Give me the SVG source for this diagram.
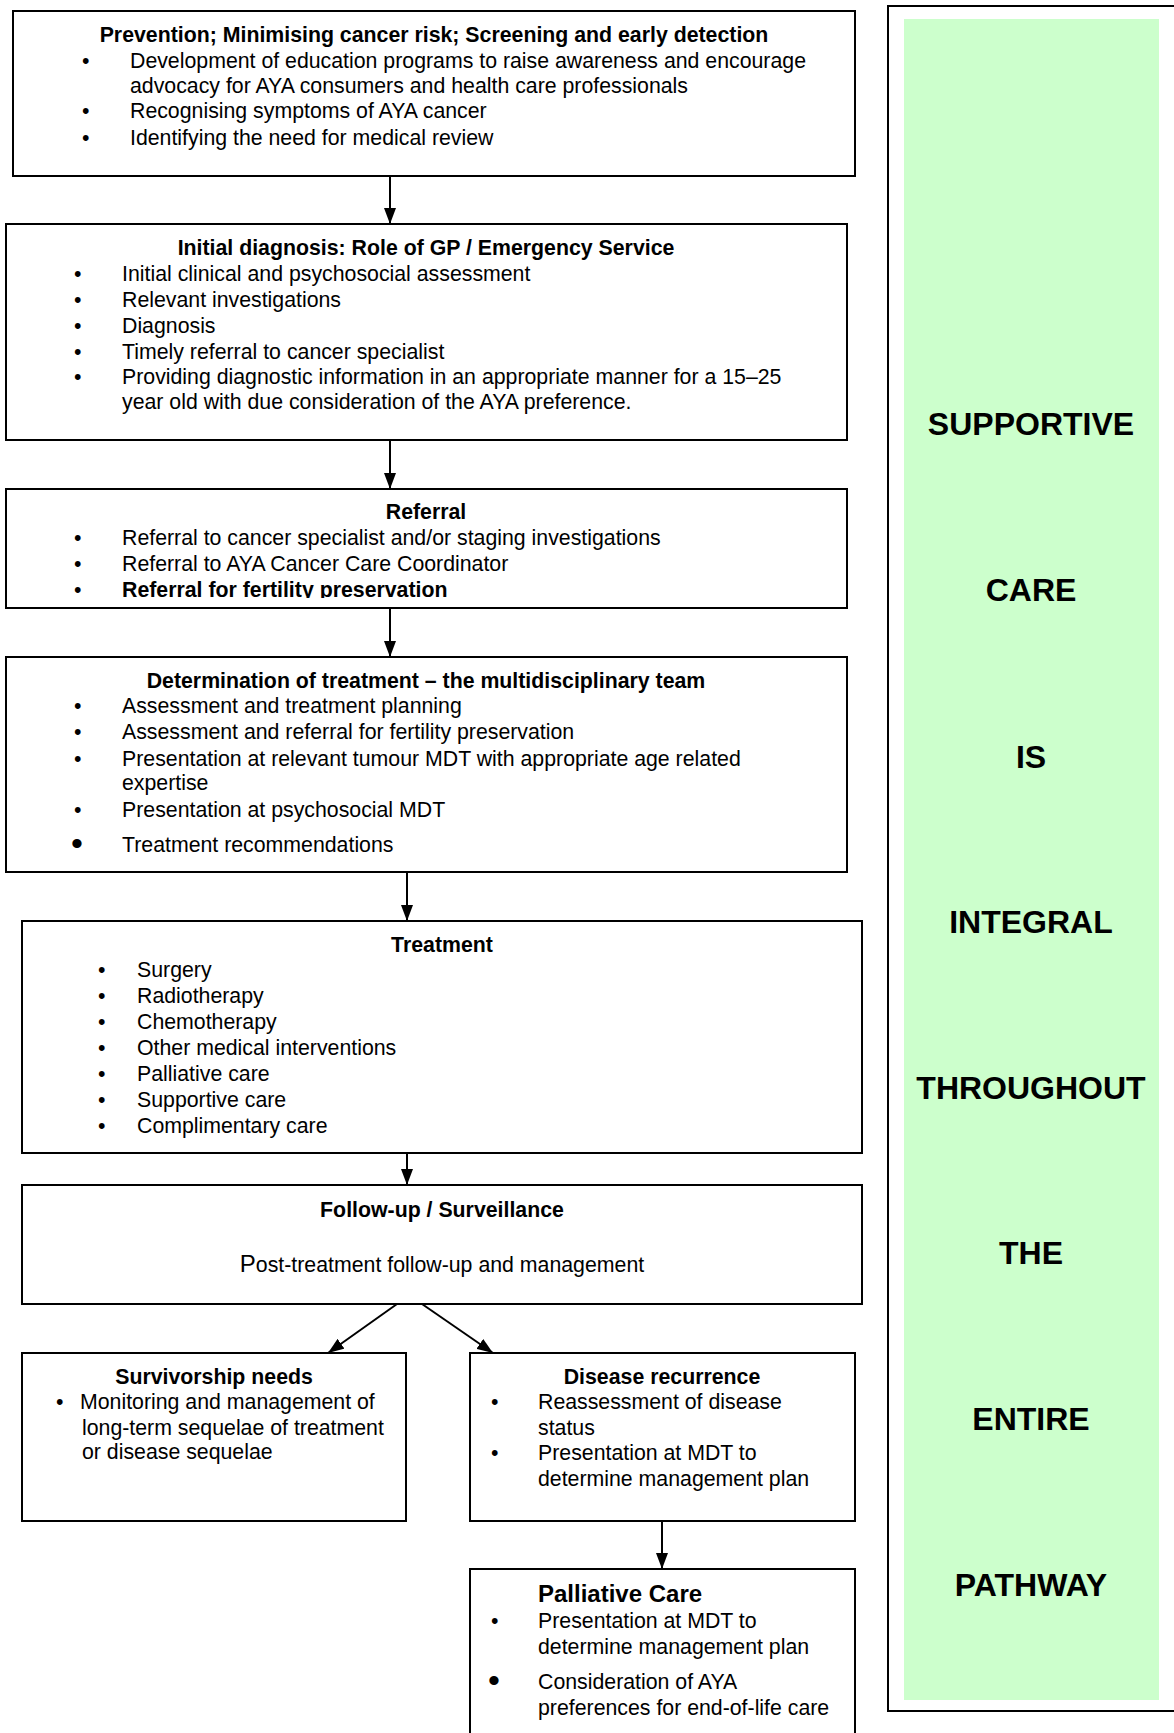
<svg xmlns="http://www.w3.org/2000/svg" width="1174" height="1733" viewBox="0 0 1174 1733">
  <style>
    .box{fill:#fff;stroke:#000;stroke-width:2}
    .t{font-family:"Liberation Sans",Arial,Helvetica,sans-serif;font-size:21.3px;fill:#000}
    .b{font-weight:bold}
    .c{text-anchor:middle}
    .big{font-size:34px}
    .head{font-size:24px}
    .side{font-family:"Liberation Sans",Arial,Helvetica,sans-serif;font-size:32px;font-weight:bold;text-anchor:middle;fill:#000}
    .conn{stroke:#000;stroke-width:2;fill:none}
  </style>
  <defs>
    <marker id="arrow" viewBox="0 0 16 12" refX="16" refY="6" markerWidth="16" markerHeight="12" markerUnits="userSpaceOnUse" orient="auto">
      <path d="M0,0 L16,6 L0,12 z" fill="#000"/>
    </marker>
    <clipPath id="refClip">
      <rect x="5" y="489" width="843" height="109"/>
    </clipPath>
  </defs>

  <rect width="1174" height="1733" fill="#fff"/>

  <!-- side panel: supportive care -->
  <g id="supportive-care">
    <rect x="888" y="6" width="300" height="1705" fill="#fff" stroke="#000" stroke-width="2"/>
    <rect x="904" y="19" width="255" height="1681" fill="#ccffcc"/>
    <text class="side" x="1031" y="435">SUPPORTIVE</text>
    <text class="side" x="1031" y="601">CARE</text>
    <text class="side" x="1031" y="768">IS</text>
    <text class="side" x="1031" y="933">INTEGRAL</text>
    <text class="side" x="1031" y="1099">THROUGHOUT</text>
    <text class="side" x="1031" y="1264">THE</text>
    <text class="side" x="1031" y="1430">ENTIRE</text>
    <text class="side" x="1031" y="1596">PATHWAY</text>
  </g>

  <!-- connectors -->
  <g id="connectors">
    <line class="conn" x1="390" y1="176" x2="390" y2="224" marker-end="url(#arrow)"/>
    <line class="conn" x1="390" y1="440" x2="390" y2="489" marker-end="url(#arrow)"/>
    <line class="conn" x1="390" y1="608" x2="390" y2="657" marker-end="url(#arrow)"/>
    <line class="conn" x1="407" y1="872" x2="407" y2="921" marker-end="url(#arrow)"/>
    <line class="conn" x1="407" y1="1153" x2="407" y2="1185" marker-end="url(#arrow)"/>
    <line class="conn" x1="397" y1="1304" x2="328" y2="1353" marker-end="url(#arrow)"/>
    <line class="conn" x1="422" y1="1304" x2="493" y2="1353" marker-end="url(#arrow)"/>
    <line class="conn" x1="662" y1="1521" x2="662" y2="1569" marker-end="url(#arrow)"/>
  </g>

  <!-- prevention -->
  <g id="prevention">
    <rect class="box" x="13" y="11" width="842" height="165"/>
    <text class="t b c" x="434" y="42">Prevention; Minimising cancer risk; Screening and early detection</text>
    <text class="t" x="82" y="68">•</text>
    <text class="t" x="130" y="68">Development of education programs to raise awareness and encourage</text>
    <text class="t" x="130" y="93">advocacy for AYA consumers and health care professionals</text>
    <text class="t" x="82" y="118">•</text>
    <text class="t" x="130" y="118">Recognising symptoms of AYA cancer</text>
    <text class="t" x="82" y="145">•</text>
    <text class="t" x="130" y="145">Identifying the need for medical review</text>
  </g>

  <!-- initial diagnosis -->
  <g id="initial-diagnosis">
    <rect class="box" x="6" y="224" width="841" height="216"/>
    <text class="t b c" x="426" y="255">Initial diagnosis: Role of GP / Emergency Service</text>
    <text class="t" x="74" y="281">•</text>
    <text class="t" x="122" y="281">Initial clinical and psychosocial assessment</text>
    <text class="t" x="74" y="307">•</text>
    <text class="t" x="122" y="307">Relevant investigations</text>
    <text class="t" x="74" y="333">•</text>
    <text class="t" x="122" y="333">Diagnosis</text>
    <text class="t" x="74" y="359">•</text>
    <text class="t" x="122" y="359">Timely referral to cancer specialist</text>
    <text class="t" x="74" y="384">•</text>
    <text class="t" x="122" y="384">Providing diagnostic information in an appropriate manner for a 15–25</text>
    <text class="t" x="122" y="409">year old with due consideration of the AYA preference.</text>
  </g>

  <!-- referral -->
  <g id="referral">
    <rect class="box" x="6" y="489" width="841" height="119"/>
    <text class="t b c" x="426" y="519">Referral</text>
    <text class="t" x="74" y="545">•</text>
    <text class="t" x="122" y="545">Referral to cancer specialist and/or staging investigations</text>
    <text class="t" x="74" y="571">•</text>
    <text class="t" x="122" y="571">Referral to AYA Cancer Care Coordinator</text>
    <g clip-path="url(#refClip)">
      <text class="t" x="74" y="597">•</text>
      <text class="t b" x="122" y="597">Referral for fertility preservation</text>
    </g>
  </g>

  <!-- determination of treatment -->
  <g id="determination">
    <rect class="box" x="6" y="657" width="841" height="215"/>
    <text class="t b c" x="426" y="688">Determination of treatment – the multidisciplinary team</text>
    <text class="t" x="74" y="713">•</text>
    <text class="t" x="122" y="713">Assessment and treatment planning</text>
    <text class="t" x="74" y="739">•</text>
    <text class="t" x="122" y="739">Assessment and referral for fertility preservation</text>
    <text class="t" x="74" y="766">•</text>
    <text class="t" x="122" y="766">Presentation at relevant tumour MDT with appropriate age related</text>
    <text class="t" x="122" y="790">expertise</text>
    <text class="t" x="74" y="817">•</text>
    <text class="t" x="122" y="817">Presentation at psychosocial MDT</text>
    <text class="t big" x="71" y="855">•</text>
    <text class="t" x="122" y="852">Treatment recommendations</text>
  </g>

  <!-- treatment -->
  <g id="treatment">
    <rect class="box" x="22" y="921" width="840" height="232"/>
    <text class="t b c" x="442" y="952">Treatment</text>
    <text class="t" x="98" y="977">•</text>
    <text class="t" x="137" y="977">Surgery</text>
    <text class="t" x="98" y="1003">•</text>
    <text class="t" x="137" y="1003">Radiotherapy</text>
    <text class="t" x="98" y="1029">•</text>
    <text class="t" x="137" y="1029">Chemotherapy</text>
    <text class="t" x="98" y="1055">•</text>
    <text class="t" x="137" y="1055">Other medical interventions</text>
    <text class="t" x="98" y="1081">•</text>
    <text class="t" x="137" y="1081">Palliative care</text>
    <text class="t" x="98" y="1107">•</text>
    <text class="t" x="137" y="1107">Supportive care</text>
    <text class="t" x="98" y="1133">•</text>
    <text class="t" x="137" y="1133">Complimentary care</text>
  </g>

  <!-- follow-up -->
  <g id="follow-up">
    <rect class="box" x="22" y="1185" width="840" height="119"/>
    <text class="t b c" x="442" y="1217">Follow-up / Surveillance</text>
    <text class="t c" x="442" y="1272"><tspan font-size="24">P</tspan>ost-treatment follow-up and management</text>
  </g>

  <!-- survivorship -->
  <g id="survivorship">
    <rect class="box" x="22" y="1353" width="384" height="168"/>
    <text class="t b c" x="214" y="1384">Survivorship needs</text>
    <text class="t" x="56" y="1409">•</text>
    <text class="t" x="80" y="1409">Monitoring and management of</text>
    <text class="t" x="82" y="1435">long-term sequelae of treatment</text>
    <text class="t" x="82" y="1459">or disease sequelae</text>
  </g>

  <!-- disease recurrence -->
  <g id="recurrence">
    <rect class="box" x="470" y="1353" width="385" height="168"/>
    <text class="t b c" x="662" y="1384">Disease recurrence</text>
    <text class="t" x="491" y="1409">•</text>
    <text class="t" x="538" y="1409">Reassessment of disease</text>
    <text class="t" x="538" y="1435">status</text>
    <text class="t" x="491" y="1460">•</text>
    <text class="t" x="538" y="1460">Presentation at MDT to</text>
    <text class="t" x="538" y="1486">determine management plan</text>
  </g>

  <!-- palliative care -->
  <g id="palliative">
    <path class="box" d="M470,1740 V1569 H855 V1740"/>
    <text class="t b head" x="538" y="1602">Palliative Care</text>
    <text class="t" x="491" y="1628">•</text>
    <text class="t" x="538" y="1628">Presentation at MDT to</text>
    <text class="t" x="538" y="1654">determine management plan</text>
    <text class="t big" x="488" y="1692">•</text>
    <text class="t" x="538" y="1689">Consideration of AYA</text>
    <text class="t" x="538" y="1715">preferences for end-of-life care</text>
  </g>
</svg>
